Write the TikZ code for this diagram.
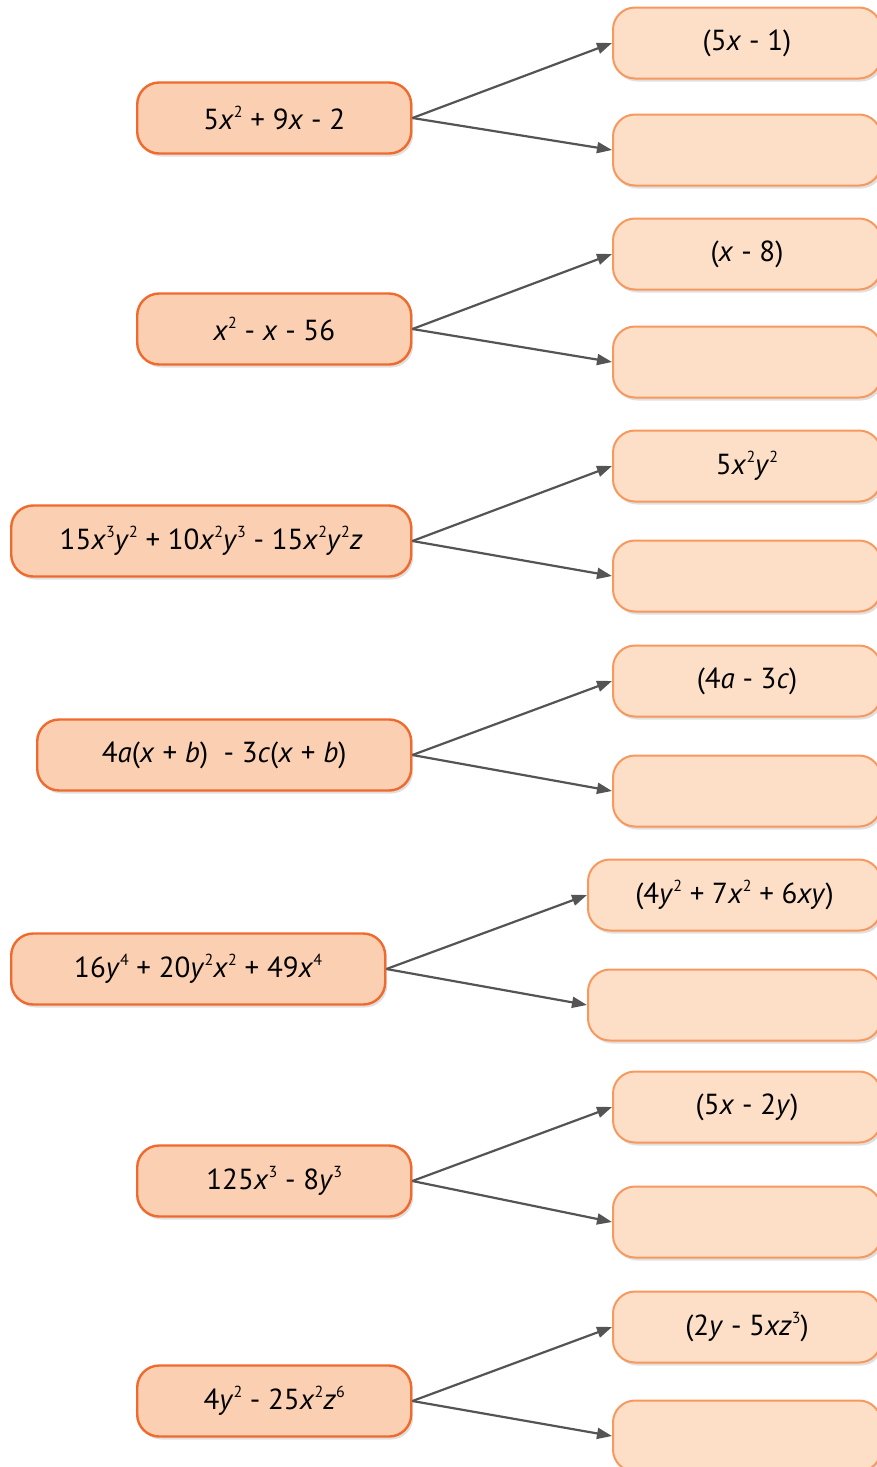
\documentclass[tikz,border=0pt]{standalone}
\usepackage{fontspec}
\setmainfont{PT Sans}
\usepackage{xcolor}
\usetikzlibrary{arrows.meta,shadows}
\definecolor{lfill}{HTML}{FBCFB2}
\definecolor{ldraw}{HTML}{F06A2E}
\definecolor{rfill}{HTML}{FDDFC8}
\definecolor{rdraw}{HTML}{F7985F}
\definecolor{arrcol}{HTML}{545454}
\newcommand{\iv}[1]{\textit{#1}}
\newcommand{\sq}[1]{\raisebox{0.42em}{\fontsize{16}{16}\selectfont #1}}

\begin{document}
\begin{tikzpicture}[x=1pt,y=-1pt,
  lbox/.style={rectangle,rounded corners=22pt,draw=ldraw,fill=lfill,line width=2.4pt,minimum height=71pt,anchor=west,inner sep=0pt,font=\fontsize{29}{32}\selectfont,
    drop shadow={shadow xshift=2pt,shadow yshift=-3pt,opacity=0.12,fill=black}},
  rbox/.style={rectangle,rounded corners=22pt,draw=rdraw,fill=rfill,line width=2pt,minimum height=71pt,anchor=west,inner sep=0pt,font=\fontsize{29}{32}\selectfont,
    drop shadow={shadow xshift=2pt,shadow yshift=-3pt,opacity=0.12,fill=black}},
  arr/.style={-{Triangle[length=15pt,width=11pt]},line width=2.2pt,arrcol}
]
\useasboundingbox (0,0) rectangle (876,1467);
% row 1
\node[lbox,minimum width=274pt] (a1) at (136,118) {5\iv{x}\sq{2} + 9\iv{x} - 2};
\node[rbox,minimum width=268pt] (a1t) at (612,43) {(5\iv{x} - 1)};
\node[rbox,minimum width=268pt] (a1b) at (612,150) {};
% row 2
\node[lbox,minimum width=274pt] (a2) at (136,329) {\iv{x}\sq{2} - \iv{x} - 56};
\node[rbox,minimum width=268pt] (a2t) at (612,254) {(\iv{x} - 8)};
\node[rbox,minimum width=268pt] (a2b) at (612,362) {};
% row 3
\node[lbox,minimum width=400pt] (a3) at (10,541) {15\iv{x}\sq{3}\iv{y}\sq{2} + 10\iv{x}\sq{2}\iv{y}\sq{3} - 15\iv{x}\sq{2}\iv{y}\sq{2}\iv{z}};
\node[rbox,minimum width=268pt] (a3t) at (612,466) {5\iv{x}\sq{2}\iv{y}\sq{2}};
\node[rbox,minimum width=268pt] (a3b) at (612,576) {};
% row 4
\node[lbox,minimum width=374pt] (a4) at (36,755) {4\iv{a}(\iv{x} + \iv{b})\ \ - 3\iv{c}(\iv{x} + \iv{b})};
\node[rbox,minimum width=268pt] (a4t) at (612,681) {(4\iv{a} - 3\iv{c})};
\node[rbox,minimum width=268pt] (a4b) at (612,791) {};
% row 5
\node[lbox,minimum width=374pt] (a5) at (10,969) {16\iv{y}\sq{4} + 20\iv{y}\sq{2}\iv{x}\sq{2} + 49\iv{x}\sq{4}};
\node[rbox,minimum width=293pt] (a5t) at (587,895) {(4\iv{y}\sq{2} + 7\iv{x}\sq{2} + 6\iv{xy})};
\node[rbox,minimum width=293pt] (a5b) at (587,1005) {};
% row 6
\node[lbox,minimum width=274pt] (a6) at (136,1181) {125\iv{x}\sq{3} - 8\iv{y}\sq{3}};
\node[rbox,minimum width=268pt] (a6t) at (612,1107) {(5\iv{x} - 2\iv{y})};
\node[rbox,minimum width=268pt] (a6b) at (612,1222) {};
% row 7
\node[lbox,minimum width=274pt] (a7) at (136,1401) {4\iv{y}\sq{2} - 25\iv{x}\sq{2}\iv{z}\sq{6}};
\node[rbox,minimum width=268pt] (a7t) at (612,1327) {(2\iv{y} - 5\iv{xz}\sq{3})};
\node[rbox,minimum width=268pt] (a7b) at (612,1436) {};
% arrows
\draw[arr] (a1.east) -- (a1t.west);
\draw[arr] (a1.east) -- (a1b.west);
\draw[arr] (a2.east) -- (a2t.west);
\draw[arr] (a2.east) -- (a2b.west);
\draw[arr] (a3.east) -- (a3t.west);
\draw[arr] (a3.east) -- (a3b.west);
\draw[arr] (a4.east) -- (a4t.west);
\draw[arr] (a4.east) -- (a4b.west);
\draw[arr] (a5.east) -- (a5t.west);
\draw[arr] (a5.east) -- (a5b.west);
\draw[arr] (a6.east) -- (a6t.west);
\draw[arr] (a6.east) -- (a6b.west);
\draw[arr] (a7.east) -- (a7t.west);
\draw[arr] (a7.east) -- (a7b.west);
\end{tikzpicture}
\end{document}
